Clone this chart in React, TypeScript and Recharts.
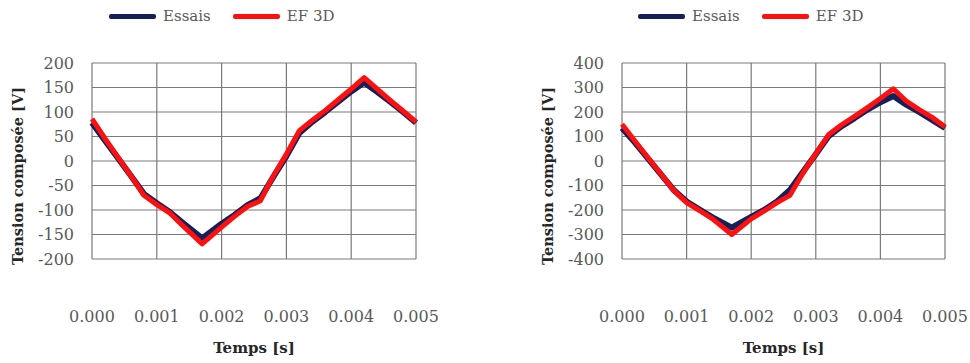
import React from 'react';
import { LineChart, Line, XAxis, YAxis, CartesianGrid, Legend } from 'recharts';

// time samples (s)
const temps = [
  0, 0.0002, 0.0004, 0.0006, 0.0008, 0.001, 0.0012, 0.0014, 0.0017, 0.002,
  0.0022, 0.0024, 0.0026, 0.0028, 0.003, 0.0032, 0.0034, 0.0036, 0.0038, 0.004,
  0.0042, 0.0044, 0.0046, 0.0048, 0.005,
];

// left chart
const essaisA = [
  78, 42, 6, -30, -67, -86, -104, -126, -158, -128,
  -110, -90, -76, -32, 10, 57, 80, 100, 121, 142,
  160, 141, 121, 100, 78,
];
const ef3dA = [
  86, 46, 8, -30, -70, -89, -106, -132, -169, -135,
  -113, -93, -81, -30, 14, 62, 83, 103, 125, 147,
  170, 147, 124, 102, 80,
];

// right chart
const essaisB = [
  135, 75, 11, -54, -118, -165, -198, -230, -272, -228,
  -200, -165, -118, -45, 28, 102, 142, 175, 210, 240,
  265, 230, 200, 168, 135,
];
const ef3dB = [
  150, 82, 14, -52, -120, -170, -202, -236, -300, -236,
  -204, -170, -140, -50, 30, 108, 148, 182, 218, 255,
  295, 245, 210, 178, 140,
];

const seriesOrder = ['Essais', 'EF 3D'];
const xTicks = [0, 0.001, 0.002, 0.003, 0.004, 0.005];
const yTicksA = [-200, -150, -100, -50, 0, 50, 100, 150, 200];
const yTicksB = [-400, -300, -200, -100, 0, 100, 200, 300, 400];

const FONT = '"DejaVu Serif", serif';
const PLOT_TOP = 63;

const makeRows = (a: number[], b: number[]) =>
  temps.map((t, i) => ({ t, essais: a[i], ef: b[i] }));

const LegendContent = (props: any) => {
  const items = [...(props.payload || [])].sort(
    (a: any, b: any) => seriesOrder.indexOf(a.value) - seriesOrder.indexOf(b.value)
  );
  return (
    <div style={{ display: 'flex', alignItems: 'center', fontFamily: FONT, fontSize: 15, color: '#595959' }}>
      {items.map((p: any, i: number) => (
        <div key={i} style={{ display: 'flex', alignItems: 'center', marginRight: 22 }}>
          <span style={{ display: 'inline-block', width: 47, height: 5, background: p.color, marginRight: 7, borderRadius: 2 }} />
          <span>{p.value}</span>
        </div>
      ))}
    </div>
  );
};

// rotated y-axis title, a bit below the plot centre as in the source figure
const YTitle = (props: any) => {
  const vb = props.viewBox || {};
  const cx = (vb.x ?? 0) + 13;
  const cy = PLOT_TOP + 113;
  return (
    <text
      x={cx}
      y={cy}
      transform={`rotate(-90, ${cx}, ${cy})`}
      textAnchor="middle"
      fontFamily={FONT}
      fontSize={14.5}
      fontWeight="bold"
      fill="#262626"
    >
      Tension composée [V]
    </text>
  );
};

interface PanelProps {
  essais: number[];
  ef: number[];
  yTicks: number[];
  marginLeft: number;
  marginRight: number;
  legendLeft: number;
}

const Panel: React.FC<PanelProps> = ({ essais, ef, yTicks, marginLeft, marginRight, legendLeft }) => {
  const data = makeRows(essais, ef);
  return (
    <LineChart
      width={485}
      height={363}
      data={data}
      margin={{ top: PLOT_TOP, right: marginRight, bottom: 9, left: marginLeft }}
    >
      <CartesianGrid stroke="#7a7a7a" strokeWidth={1.2} />
      <XAxis
        dataKey="t"
        type="number"
        domain={[0, 0.005]}
        ticks={xTicks}
        tickFormatter={(v: number) => v.toFixed(3)}
        axisLine={false}
        tickLine={false}
        tickSize={0}
        tickMargin={52}
        height={95}
        interval={0}
        tick={{ fontFamily: FONT, fontSize: 16, fill: '#595959' }}
        label={{ value: 'Temps [s]', position: 'insideBottom', offset: 1, style: { fontFamily: FONT, fontSize: 15, fontWeight: 'bold', fill: '#262626' } }}
      />
      <YAxis
        type="number"
        domain={[yTicks[0], yTicks[yTicks.length - 1]]}
        ticks={yTicks}
        axisLine={false}
        tickLine={false}
        tickSize={0}
        tickMargin={18}
        width={82}
        interval={0}
        tick={{ fontFamily: FONT, fontSize: 16, fill: '#595959' }}
        label={{ value: 'Tension composée [V]', content: <YTitle /> }}
      />
      <Legend
        verticalAlign="middle"
        align="center"
        content={<LegendContent />}
        wrapperStyle={{ top: 7, left: legendLeft, width: 300, height: 20 }}
      />
      <Line
        type="linear"
        dataKey="essais"
        name="Essais"
        stroke="#14205a"
        strokeWidth={6}
        strokeLinejoin="round"
        dot={false}
        isAnimationActive={false}
      />
      <Line
        type="linear"
        dataKey="ef"
        name="EF 3D"
        stroke="#ff1010"
        strokeWidth={5}
        strokeLinejoin="round"
        dot={false}
        isAnimationActive={false}
      />
    </LineChart>
  );
};

export default function App() {
  return (
    <div style={{ position: 'absolute', left: 0, top: 0, width: 970, height: 363, display: 'flex', background: '#fff' }}>
      <Panel essais={essaisA} ef={ef3dA} yTicks={yTicksA} marginLeft={10} marginRight={69} legendLeft={109} />
      <Panel essais={essaisB} ef={ef3dB} yTicks={yTicksB} marginLeft={55} marginRight={25} legendLeft={153} />
    </div>
  );
}
